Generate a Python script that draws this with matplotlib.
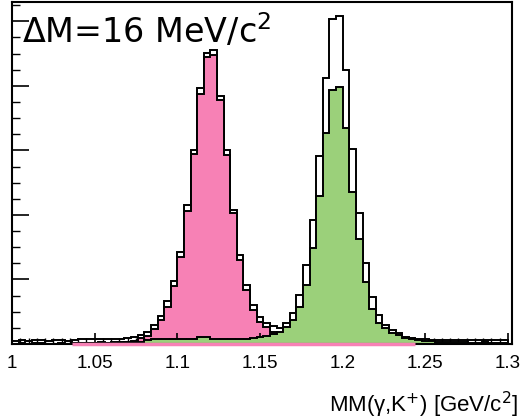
import matplotlib.pyplot as plt
import numpy as np
from matplotlib.ticker import MultipleLocator, FuncFormatter

# 75 bins of 4 MeV from 1.0 to 1.3 GeV
edges = np.linspace(1.0, 1.3, 76)

total = [10, 12, 10, 12, 12, 10, 11, 12, 10,
         12, 16, 17, 14, 14, 15, 16, 16, 20, 23,
         28, 38, 59, 87, 132, 195, 285, 431, 601, 794,
         903, 910, 769, 601, 415, 276, 183, 121, 84, 65,
         56, 51, 65, 97, 152, 245, 384, 583, 825, 1008,
         1017, 849, 605, 406, 250, 146, 91, 59, 43, 33,
         23, 20, 17, 14, 13, 12, 13, 12, 11, 12,
         12, 11, 12, 11, 12, 13]

lam = [0, 0, 0, 0, 0, 0, 0, 0, 0,
       3, 3, 3, 3, 3, 3, 4, 5, 6, 10,
       19, 26, 47, 74, 116, 180, 270, 413, 589, 775,
       889, 896, 755, 586, 405, 260, 167, 105, 68, 53,
       37, 25, 19, 14, 11, 9, 8, 6, 6, 6,
       5, 5, 4, 4, 4, 4, 4, 3, 3, 3,
       3, 2, 0, 0, 0, 0, 0, 0, 0, 0,
       0, 0, 0, 0, 0, 0]

sig = [1, 2, 1, 4, 2, 1, 1, 2, 1,
       2, 3, 3, 3, 5, 3, 6, 4, 5, 5,
       5, 13, 15, 15, 15, 15, 15, 15, 16, 23,
       23, 16, 15, 15, 15, 15, 16, 19, 22, 25,
       31, 37, 53, 74, 116, 183, 298, 459, 654, 787,
       797, 669, 472, 326, 192, 109, 66, 50, 35, 28,
       18, 15, 12, 10, 8, 7, 6, 6, 5, 5,
       4, 4, 5, 4, 4, 4]

pink = '#f781b5'
green = '#9bd07a'

fig = plt.figure(figsize=(5.2, 4.19), dpi=100)
ax = fig.add_axes([12/520, 1 - 344/419, 500/520, 342/419])

ax.stairs(total, edges, fill=True, facecolor='white', edgecolor='black', lw=1.4, zorder=1)
ax.stairs(lam, edges, fill=True, facecolor=pink, edgecolor='black', lw=1.4, zorder=2)
ax.stairs(sig, edges, fill=True, facecolor=green, edgecolor='black', lw=1.4, zorder=3)

# thin pink strip along the bottom where the lambda histogram is non-zero
nz = np.nonzero(lam)[0]
ax.hlines(0, edges[nz[0]], edges[nz[-1] + 1], color=pink, lw=2.5, zorder=4, clip_on=False)

ax.set_xlim(1.0, 1.3024)
ax.set_ylim(0, 1060)
ax.set_axisbelow(False)

ax.xaxis.set_major_locator(MultipleLocator(0.05))
ax.xaxis.set_minor_locator(MultipleLocator(0.005))
ax.yaxis.set_major_locator(MultipleLocator(200))
ax.yaxis.set_minor_locator(MultipleLocator(50))
ax.xaxis.set_major_formatter(FuncFormatter(lambda v, p: '%g' % round(v, 3)))
ax.tick_params(axis='both', which='both', direction='in', top=False, right=False)
ax.tick_params(axis='x', which='major', length=8, width=1.2, pad=8, labelsize=13.5)
ax.tick_params(axis='x', which='minor', length=4, width=1.0)
ax.tick_params(axis='y', which='major', length=12, width=1.2, labelleft=False)
ax.tick_params(axis='y', which='minor', length=6, width=1.0)
for lbl in ax.get_xticklabels():
    lbl.set_family('Liberation Sans')
for s in ax.spines.values():
    s.set_linewidth(1.5)
    s.set_zorder(3.5)

fig.text(22/520, 1 - 43/419, r'$\Delta$M=16 MeV/c$^{2}$', fontsize=24,
         family='DejaVu Sans', ha='left', va='baseline')
fig.text(518/520, 1 - 405/419, r'MM(γ,K$^{+}$) [GeV/c$^{2}$]', fontsize=16,
         family='Liberation Sans', ha='right', va='center')

fig.savefig('out.png', dpi=100)
